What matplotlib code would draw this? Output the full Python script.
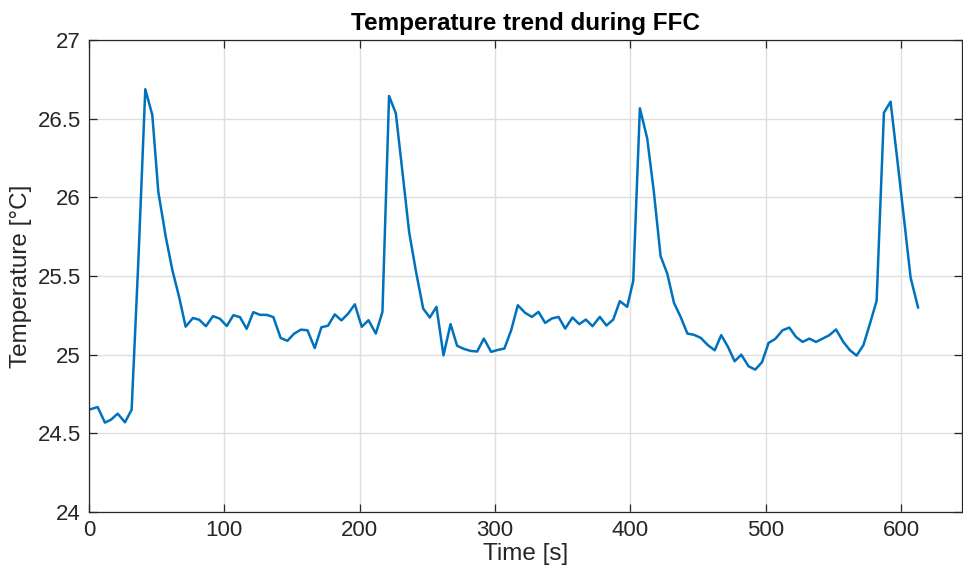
import matplotlib
matplotlib.use("Agg")
import matplotlib.pyplot as plt

# time samples [s] and temperature [degC]
time_s = [0, 6.4, 11.8, 16.3, 21.2, 26.6, 31.5, 36.5, 41.6, 46.8,
          51.2, 56.7, 61.6, 66.5, 71.4, 76.8, 81.4, 86.4, 91.6, 96.8,
          101.8, 106.7, 111.6, 116.5, 121.4, 126.4, 131.3, 136.2, 141.6, 146.6,
          151.5, 156.5, 161.4, 166.8, 171.7, 176.6, 181.6, 186.5, 191.4, 196.4,
          201.5, 206.5, 211.9, 216.8, 221.7, 226.7, 231.6, 236.5, 241.4, 246.9,
          251.8, 256.7, 261.9, 267.1, 272.0, 276.9, 281.8, 286.8, 291.7, 297.1,
          302.0, 306.9, 311.9, 316.8, 322.2, 327.2, 332.1, 337.0, 342.0, 346.9,
          351.8, 357.2, 362.2, 367.1, 372.0, 377.4, 382.3, 387.3, 392.2, 397.6,
          402.1, 407.0, 412.4, 417.3, 422.3, 427.2, 432.2, 437.1, 442.1, 447.0,
          451.9, 457.3, 462.3, 467.1, 472.1, 477.0, 481.9, 487.3, 492.2, 497.2,
          502.1, 507.0, 512.4, 517.4, 522.3, 527.2, 532.2, 537.1, 542.0, 547.0,
          551.9, 557.3, 562.2, 567.1, 572.1, 577.0, 581.9, 587.3, 592.2, 597.2,
          602.1, 607.0, 612.5]
temp_c = [24.65, 24.667, 24.568, 24.587, 24.625, 24.57, 24.65, 25.6, 26.687, 26.523,
          26.036, 25.75, 25.537, 25.37, 25.178, 25.233, 25.222, 25.181, 25.245, 25.228,
          25.182, 25.251, 25.238, 25.164, 25.27, 25.253, 25.253, 25.239, 25.106, 25.088,
          25.133, 25.159, 25.155, 25.042, 25.174, 25.184, 25.256, 25.218, 25.26, 25.32,
          25.177, 25.219, 25.134, 25.272, 26.644, 26.534, 26.16, 25.781, 25.537, 25.293,
          25.236, 25.304, 24.996, 25.194, 25.056, 25.037, 25.024, 25.02, 25.102, 25.018,
          25.03, 25.039, 25.155, 25.314, 25.266, 25.24, 25.272, 25.202, 25.23, 25.24,
          25.166, 25.236, 25.194, 25.223, 25.181, 25.24, 25.185, 25.223, 25.34, 25.304,
          25.469, 26.566, 26.375, 26.036, 25.626, 25.516, 25.329, 25.24, 25.134, 25.126,
          25.107, 25.06, 25.028, 25.124, 25.049, 24.958, 25.0, 24.926, 24.905, 24.952,
          25.075, 25.1, 25.155, 25.172, 25.113, 25.081, 25.102, 25.081, 25.102, 25.124,
          25.16, 25.081, 25.028, 24.994, 25.06, 25.198, 25.342, 26.538, 26.608, 26.237,
          25.866, 25.49, 25.3]

xticks = [0, 100, 200, 300, 400, 500, 600]
yticks = [24, 24.5, 25, 25.5, 26, 26.5, 27]
ytick_labels = ["24", "24.5", "25", "25.5", "26", "26.5", "27"]

plt.rcParams["font.family"] = ["Liberation Sans", "DejaVu Sans"]
dark = "#262626"

fig = plt.figure(figsize=(9.63, 5.78), dpi=100)
ax = fig.add_axes([0.0924, 0.1142, 0.9066, 0.8166])

ax.plot(time_s, temp_c, color="#0072BD", linewidth=1.8)

ax.set_xlim(0, 645)
ax.set_ylim(24, 27)
ax.set_xticks(xticks)
ax.set_yticks(yticks)
ax.set_yticklabels(ytick_labels)

ax.grid(True, color="#dedede", linewidth=1.0)
ax.set_axisbelow(True)
for s in ax.spines.values():
    s.set_color(dark)
    s.set_linewidth(0.9)
ax.tick_params(direction="in", length=6, width=0.9, colors=dark,
               labelsize=16, top=True, right=True, pad=6)

ax.set_xlabel("Time [s]", fontsize=17.5, color=dark, labelpad=1)
ax.set_ylabel("Temperature [°C]", fontsize=17.5, color=dark, labelpad=4)
ax.set_title("Temperature trend during FFC", fontsize=17.5, fontweight="bold",
             color="black", pad=7)

fig.savefig("out.png", dpi=100)
